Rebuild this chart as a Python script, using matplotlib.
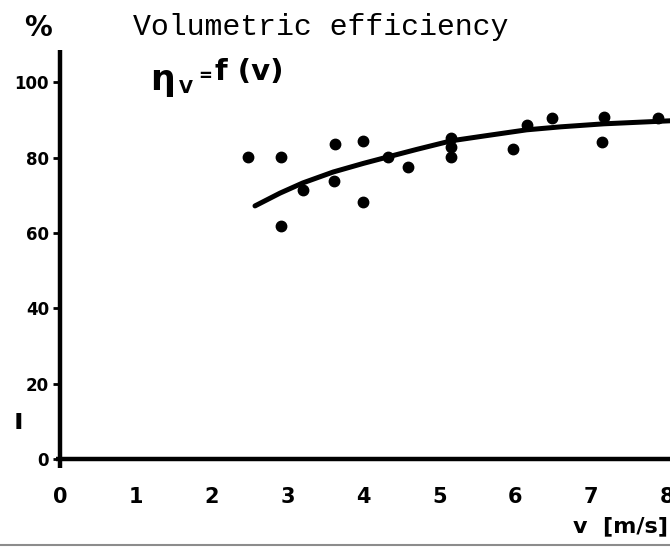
import matplotlib
matplotlib.use('Agg')
import matplotlib.pyplot as plt

# measured points: flow velocity v [m/s] vs volumetric efficiency [%]
v_meas = [2.48, 2.91, 2.91, 3.20, 3.61, 3.62, 4.00, 4.00, 4.32, 4.59,
          5.16, 5.16, 5.16, 5.97, 6.15, 6.48, 7.15, 7.17, 7.88]
eta_meas = [80.2, 80.2, 61.9, 71.4, 73.8, 83.6, 84.5, 68.3, 80.2, 77.5,
            85.2, 82.9, 80.2, 82.3, 88.7, 90.6, 84.2, 90.8, 90.6]

# hand-drawn trend curve eta_v = f(v)
v_curve = [2.57, 2.90, 3.20, 3.60, 4.00, 4.32, 4.70, 5.16, 5.60, 6.15, 6.60, 7.17, 8.04]
eta_curve = [67.2, 70.6, 73.3, 76.2, 78.5, 80.2, 82.2, 84.5, 85.8, 87.4, 88.2, 89.0, 89.8]

x_ticks = [0, 1, 2, 3, 4, 5, 6, 7, 8]
y_ticks = [0, 20, 40, 60, 80, 100]

W, H = 670, 547
fig = plt.figure(figsize=(W / 100, H / 100), dpi=100)


def fx(px):
    return px / W


def fy(py):
    return 1 - py / H


ax = fig.add_axes([fx(60), fy(459), 1 - fx(60), fy(50) - fy(459)])
ax.set_xlim(0, 8.04)
ax.set_ylim(0, 108.6)
for s in ax.spines.values():
    s.set_visible(False)

# axis lines, drawn by hand so the vertical one runs a little below zero
ax.plot([0, 0], [-2.5, 108.6], color='black', lw=3.2, clip_on=False,
        solid_capstyle='butt')
ax.plot([-0.05, 8.04], [0, 0], color='black', lw=3.2, clip_on=False,
        solid_capstyle='butt')

ax.plot(v_meas, eta_meas, 'o', color='black', ms=7.5, clip_on=False)
ax.plot(v_curve, eta_curve, color='black', lw=3.6, solid_capstyle='round',
        clip_on=False)

ax.set_yticks(y_ticks)
ax.set_yticklabels([str(t) for t in y_ticks], fontsize=12, fontweight='bold')
ax.tick_params(axis='y', direction='out', length=5, width=2, pad=3)
ax.set_xticks(x_ticks)
ax.set_xticklabels([str(t) for t in x_ticks], fontsize=15, fontweight='bold')
ax.tick_params(axis='x', length=0, pad=20)

# headings and labels
fig.text(fx(38), fy(28), '%', fontsize=20, fontweight='bold',
         ha='center', va='center')
fig.text(fx(133), fy(27), 'Volumetric efficiency', family='Liberation Mono',
         fontsize=21.5, ha='left', va='center')
fig.text(fx(150), fy(80), 'η', fontsize=25, fontweight='bold',
         ha='left', va='center')
fig.text(fx(179), fy(88), 'V', fontsize=13, fontweight='bold',
         ha='left', va='center')
fig.text(fx(198), fy(76), '=', fontsize=12, fontweight='bold',
         ha='left', va='center')
fig.text(fx(215), fy(72), 'f (v)', fontsize=21, fontweight='bold',
         ha='left', va='center')
fig.text(fx(18), fy(421), 'ı', fontsize=20, fontweight='bold',
         ha='center', va='center')
fig.text(fx(668), fy(526), 'v  [m/s]', fontsize=16, fontweight='bold',
         ha='right', va='center')

# scanner edge along the bottom
fig.add_artist(plt.Line2D([0, 1], [fy(545), fy(545)], color='0.55', lw=1.5))

fig.savefig('out.png', dpi=100)
